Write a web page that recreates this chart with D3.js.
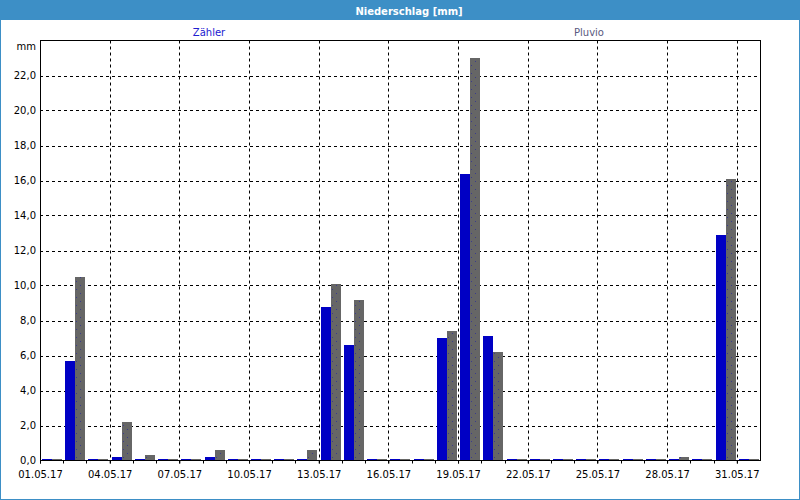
<!DOCTYPE html>
<html>
<head>
<meta charset="utf-8">
<script src="https://cdn.jsdelivr.net/npm/d3@7/dist/d3.min.js"></script>
<style>
  html, body { margin: 0; padding: 0; background: #ffffff; }
  svg { display: block; }
  text { font-family: "DejaVu Sans", Verdana, sans-serif; }
</style>
</head>
<body>
<svg id="chart" width="800" height="500"></svg>
<script>
// ---- data ----
const title = "Niederschlag [mm]";
const unitLabel = "mm";
const seriesNames = ["Zähler", "Pluvio"];
const days = d3.range(1, 32).map(d => "2017-05-" + String(d).padStart(2, "0"));
const zaehler = [0, 5.7, 0, 0.2, 0, 0, 0, 0.2, 0, 0, 0, 0, 8.8, 6.6, 0, 0, 0, 7.0, 16.4, 7.1, 0, 0, 0, 0, 0, 0, 0, 0, 0, 12.9, 0];
const pluvio  = [0, 10.5, 0, 2.2, 0.3, 0, 0, 0.6, 0, 0, 0, 0.6, 10.1, 9.2, 0, 0, 0, 7.4, 23.0, 6.2, 0, 0, 0, 0, 0, 0, 0, 0.2, 0, 16.1, 0];
const yTicks = [0, 2, 4, 6, 8, 10, 12, 14, 16, 18, 20, 22];
const xTickDays = ["2017-05-01","2017-05-04","2017-05-07","2017-05-10","2017-05-13","2017-05-16","2017-05-19","2017-05-22","2017-05-25","2017-05-28","2017-05-31"];

// ---- setup ----
const svg = d3.select("#chart");
const W = 800, H = 500;
const pLeft = 40, pRight = 760, pTop = 40.5, pBottom = 460.5;
const parse = d3.utcParse("%Y-%m-%d");
const fmtDate = d3.utcFormat("%d.%m.%y");
const fmtNum = v => d3.format(".1f")(v).replace(".", ",");

const x = d3.scaleUtc()
  .domain([parse("2017-05-01"), parse("2017-06-01")])
  .range([pLeft, pRight]);
const y = d3.scaleLinear().domain([0, 24]).range([pBottom, pTop]);
const dayW = x(parse("2017-05-02")) - x(parse("2017-05-01"));
const inner = d3.scaleBand().domain(seriesNames).range([0, dayW]).paddingInner(0).paddingOuter(0.16);
const colors = { "Zähler": "#0000c4", "Pluvio": "#666666" };
const legendColors = { "Zähler": "#2020d0", "Pluvio": "#5a5a80" };

// pattern for Pluvio
const defs = svg.append("defs");
const pat = defs.append("pattern").attr("id", "dots")
  .attr("patternUnits", "userSpaceOnUse").attr("width", 10).attr("height", 8);
pat.append("rect").attr("width", 10).attr("height", 8).attr("fill", colors["Pluvio"]);
pat.append("rect").attr("x", 3).attr("y", 1).attr("width", 1).attr("height", 1).attr("fill", "#3b3b8c");
pat.append("rect").attr("x", 7).attr("y", 5).attr("width", 1).attr("height", 1).attr("fill", "#3b3b8c");

// window frame
svg.append("rect").attr("x", 0.5).attr("y", 0.5).attr("width", W - 1).attr("height", H - 1)
  .attr("fill", "#ffffff").attr("stroke", "#3d8fc6");
svg.append("rect").attr("x", 0).attr("y", 0).attr("width", W).attr("height", 20).attr("fill", "#3d8fc6");
svg.append("text").attr("x", 409).attr("y", 14.5).attr("text-anchor", "middle")
  .attr("font-size", 10).attr("font-weight", "bold").attr("fill", "#ffffff").text(title);

// legend
const legendX = [209, 589];
seriesNames.forEach((s, i) => {
  svg.append("text").attr("x", legendX[i]).attr("y", 36).attr("text-anchor", "middle")
    .attr("font-size", 10).attr("fill", legendColors[s]).text(s);
});

// plot background
svg.append("rect").attr("x", pLeft).attr("y", pTop).attr("width", pRight - pLeft).attr("height", pBottom - pTop)
  .attr("fill", "#ffffff");

// gridlines
const grid = svg.append("g").attr("stroke", "#000").attr("stroke-dasharray", "3,3").attr("stroke-width", 1);
grid.selectAll("line.h").data(yTicks.filter(v => v > 0)).join("line")
  .attr("x1", pLeft).attr("x2", pRight)
  .attr("y1", d => Math.round(y(d)) + 0.5).attr("y2", d => Math.round(y(d)) + 0.5);
grid.selectAll("line.v").data(xTickDays.slice(1)).join("line")
  .attr("y1", pTop).attr("y2", pBottom)
  .attr("x1", d => Math.round(x(parse(d))) + 0.5).attr("x2", d => Math.round(x(parse(d))) + 0.5);

// bars
const rows = days.map((d, i) => ({ day: parse(d), values: [
  { s: "Zähler", v: zaehler[i] }, { s: "Pluvio", v: pluvio[i] } ] }));
const groups = svg.append("g").attr("shape-rendering", "crispEdges").selectAll("g").data(rows).join("g")
  .attr("transform", d => `translate(${Math.round(x(d.day))},0)`);
groups.selectAll("rect").data(d => d.values).join("rect")
  .attr("x", d => Math.round(inner(d.s)))
  .attr("width", Math.round(inner.bandwidth()))
  .attr("y", d => Math.round(Math.min(y(d.v), pBottom - 1.5)))
  .attr("height", d => pBottom - Math.round(Math.min(y(d.v), pBottom - 1.5)))
  .attr("fill", d => d.s === "Pluvio" ? "url(#dots)" : colors[d.s]);

// axes
const xAxis = d3.axisBottom(x)
  .tickValues(xTickDays.map(parse))
  .tickFormat(fmtDate).tickSize(3).tickSizeOuter(0);
const gx = svg.append("g").attr("transform", `translate(0,${pBottom})`).call(xAxis);
gx.select(".domain").remove();
gx.selectAll("text").attr("font-size", 10).attr("fill", "#000").attr("dy", "1.1em").attr("font-family", "DejaVu Sans");
// day minor ticks
svg.append("g").selectAll("line").data(days.map(parse)).join("line")
  .attr("x1", d => Math.round(x(d)) + 0.5).attr("x2", d => Math.round(x(d)) + 0.5)
  .attr("y1", pBottom).attr("y2", pBottom + 3).attr("stroke", "#000");

const yAxis = d3.axisLeft(y).tickValues(yTicks).tickFormat(fmtNum).tickSize(0).tickPadding(4);
const gy = svg.append("g").attr("transform", `translate(${pLeft},0)`).call(yAxis);
gy.select(".domain").remove();
gy.selectAll("text").attr("font-size", 10).attr("fill", "#000").attr("font-family", "DejaVu Sans");

svg.append("text").attr("x", 36).attr("y", 50).attr("text-anchor", "end")
  .attr("font-size", 10).attr("fill", "#000").text(unitLabel);

// frame
svg.append("rect").attr("x", pLeft + 0.5).attr("y", pTop).attr("width", pRight - pLeft).attr("height", pBottom - pTop)
  .attr("fill", "none").attr("stroke", "#000").attr("stroke-width", 1);
</script>
</body>
</html>
